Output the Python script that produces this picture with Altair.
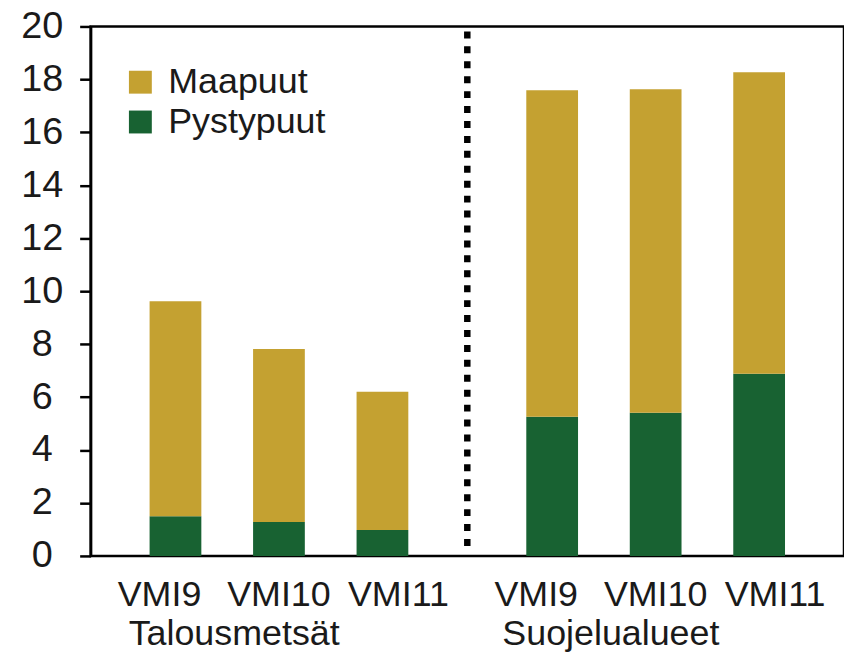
import altair as alt
import pandas as pd

group_order = ["Talousmetsät", "Suojelualueet"]
survey_order = ["VMI9", "VMI10", "VMI11"]
groups = ["Talousmetsät", "Talousmetsät", "Talousmetsät",
          "Suojelualueet", "Suojelualueet", "Suojelualueet"]
surveys = ["VMI9", "VMI10", "VMI11", "VMI9", "VMI10", "VMI11"]
pystypuut = [1.50, 1.28, 0.98, 5.26, 5.41, 6.88]
maapuut = [8.12, 6.54, 5.22, 12.33, 12.22, 11.39]
kinds = ["Maapuut", "Pystypuut"]
colors = ["#C4A131", "#186232"]
y_ticks = [0, 2, 4, 6, 8, 10, 12, 14, 16, 18, 20]

rows = []
for g, s, p, m in zip(groups, surveys, pystypuut, maapuut):
    rows.append({"group": g, "survey": s, "kind": "Pystypuut", "value": p})
    rows.append({"group": g, "survey": s, "kind": "Maapuut", "value": m})
df = pd.DataFrame(rows)
labels_df = pd.DataFrame({"group": groups, "survey": surveys})
groups_df = pd.DataFrame({"group": group_order})
divider_df = pd.DataFrame({"group": ["Suojelualueet"]})

W, H = 757, 532
FONT = "Liberation Sans"
TXT = "#1a1a1a"


def x_enc(**kw):
    return alt.X("group:N", sort=group_order,
                 scale=alt.Scale(paddingInner=0, paddingOuter=0), axis=None, **kw)


bars = alt.Chart(df).transform_calculate(
    stack_order="datum.kind === 'Pystypuut' ? 0 : 1"
).mark_bar().encode(
    x=x_enc(),
    xOffset=alt.XOffset("survey:N", sort=survey_order,
                        scale=alt.Scale(paddingInner=0.5, paddingOuter=0.57)),
    y=alt.Y("value:Q", stack="zero",
            scale=alt.Scale(domain=[0, 20], nice=False),
            axis=alt.Axis(values=y_ticks, title=None, grid=False,
                          domain=True, domainColor="black", domainWidth=2.5,
                          ticks=True, tickSize=11, tickWidth=2.5, tickColor="black",
                          labelFontSize=38, labelFont=FONT, labelColor=TXT,
                          labelAlign="center", labelBaseline="middle",
                          labelPadding=38, labelFlush=False, labelOverlap=False)),
    color=alt.Color("kind:N", sort=kinds,
                    scale=alt.Scale(domain=kinds, range=colors),
                    legend=alt.Legend(orient="none", legendX=32, legendY=38,
                                      title=None, symbolType="square",
                                      symbolSize=529, symbolStrokeWidth=0,
                                      labelFontSize=36, labelFont=FONT,
                                      labelColor=TXT, labelOffset=10,
                                      rowPadding=4, padding=0)),
    order=alt.Order("stack_order:Q"),
)

sub_labels = alt.Chart(labels_df).mark_text(
    fontSize=36, font=FONT, color=TXT, baseline="alphabetic", align="center"
).encode(
    x=x_enc(),
    xOffset=alt.XOffset("survey:N", sort=survey_order,
                        scale=alt.Scale(type="point", padding=0.577)),
    y=alt.value(H + 50),
    text="survey:N",
)

group_labels = alt.Chart(groups_df).mark_text(
    fontSize=36, font=FONT, color=TXT, baseline="alphabetic", align="center", dx=-45
).encode(
    x=x_enc(),
    y=alt.value(H + 89),
    text="group:N",
)

divider = alt.Chart(divider_df).mark_rule(
    color="black", strokeWidth=6.5, strokeDash=[7, 8]
).encode(
    x=x_enc(bandPosition=0),
    y=alt.value(5),
    y2=alt.value(525),
)

chart = alt.layer(bars, divider, sub_labels, group_labels).resolve_scale(
    xOffset="independent"
).properties(
    width=W, height=H,
    autosize=alt.AutoSizeParams(type="none"),
    padding={"left": 83, "top": 17, "right": 0, "bottom": 97},
).configure_view(
    stroke="black", strokeWidth=2.5
)

chart.save("out.html", embed_options={"renderer": "svg", "actions": False})
